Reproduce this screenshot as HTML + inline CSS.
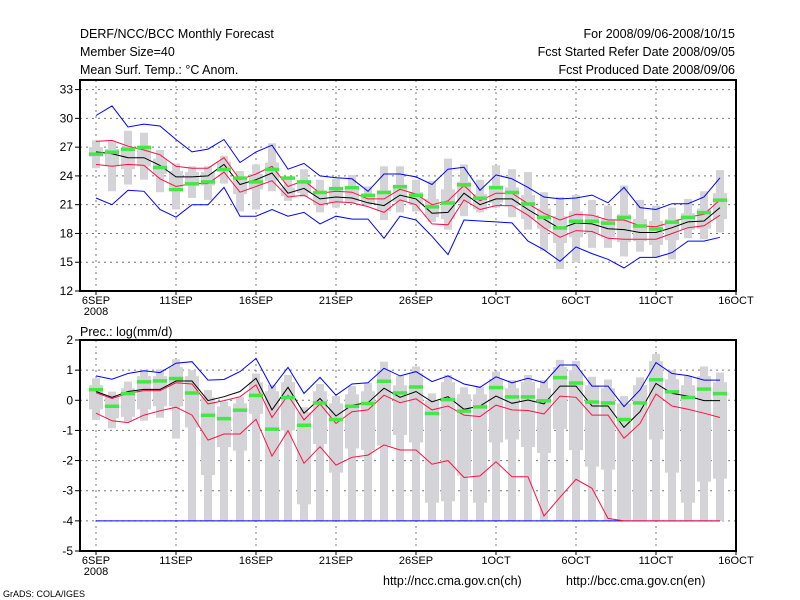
<!DOCTYPE html>
<html><head><meta charset="utf-8"><style>
body{margin:0;background:#fff;}
svg{display:block;font-family:"Liberation Sans",sans-serif;}
</style></head><body>
<svg id="c" width="800" height="600" viewBox="0 0 800 600">
<rect width="800" height="600" fill="#fff"/>
<g font-size="12.5" fill="#000">
<text x="80" y="38">DERF/NCC/BCC Monthly Forecast</text>
<text x="80" y="56">Member Size=40</text>
<text x="80" y="74">Mean Surf. Temp.: °C Anom.</text>
<text x="735" y="38" text-anchor="end">For 2008/09/06-2008/10/15</text>
<text x="735" y="56" text-anchor="end">Fcst Started Refer Date 2008/09/05</text>
<text x="735" y="74" text-anchor="end">Fcst Produced Date 2008/09/06</text>
<text x="80" y="336">Prec.: log(mm/d)</text>
<text x="383" y="585">http://ncc.cma.gov.cn(ch)</text>
<text x="566" y="585">http://bcc.cma.gov.cn(en)</text>
<text x="3" y="597" font-size="9">GrADS: COLA/IGES</text>
</g>
</svg>
<script>
// ---- Temperature panel data ----
const tMax=[27.7,27.6,28.7,28.5,26.7,25.3,25.0,25.0,26.1,24.5,25.2,27.4,23.8,24.7,23.6,23.7,24.1,22.9,25.0,25.0,23.6,23.5,25.8,25.2,23.6,25.1,24.7,24.4,22.3,21.8,22.0,21.5,20.9,23.0,21.5,20.9,20.7,21.6,22.4,24.6];
const tQ3=[27.0,26.8,27.0,27.0,25.8,24.5,24.4,24.4,25.5,23.7,24.2,25.4,22.8,23.5,22.4,22.5,22.6,21.9,22.5,23.1,22.3,21.6,22.6,23.4,22.1,23.0,22.8,22.0,20.6,19.8,20.3,19.9,19.5,20.0,19.5,19.3,19.5,20.1,20.6,22.2];
const tQ1=[26.0,25.0,24.7,25.0,24.2,22.8,23.0,23.0,24.4,22.1,22.6,23.5,21.9,22.2,21.0,21.2,21.3,21.1,20.3,21.3,21.0,19.7,19.5,21.2,20.5,21.2,20.8,19.5,18.5,17.0,17.6,18.0,17.6,17.1,17.2,16.8,17.3,18.4,18.5,19.5];
const tMin=[24.8,22.4,23.1,23.6,22.3,20.5,21.7,21.5,23.2,20.3,20.5,22.4,21.4,21.8,20.2,20.7,21.2,20.9,19.4,20.2,20.3,19.2,18.4,19.8,20.2,20.7,19.7,18.4,16.2,14.3,15.0,16.5,16.5,15.6,16.1,15.5,15.3,17.5,17.4,18.1];
const tBlueHi=[30.3,31.3,29.1,29.4,29.2,27.8,26.5,26.8,27.8,25.4,26.5,27.2,24.7,25.3,24.0,23.8,23.7,22.4,24.2,24.2,23.9,23.1,24.7,24.9,22.5,24.1,23.7,22.8,21.8,21.6,21.7,22.0,21.2,22.8,20.7,20.5,21.1,21.1,21.8,23.8];
const tBlueLo=[21.7,21.0,22.5,22.4,20.5,19.7,21.0,21.0,22.8,19.8,19.8,20.5,19.8,20.2,19.0,19.8,19.5,19.5,17.5,19.8,19.4,17.7,15.8,19.4,19.3,19.2,19.1,17.2,16.3,15.1,16.6,15.9,15.3,14.4,15.5,15.5,16.0,17.2,17.2,17.6];
const tRedHi=[27.6,27.7,27.1,26.7,26.2,25.0,24.8,24.8,25.9,23.6,24.2,25.0,22.9,23.5,22.2,22.4,22.3,21.6,21.6,22.6,22.1,21.0,21.4,23.0,21.4,22.2,22.2,21.1,20.1,19.4,20.0,19.9,19.4,19.4,18.8,18.7,19.2,19.7,20.0,21.5];
const tRedLo=[25.2,25.0,25.2,25.1,23.7,22.9,23.2,23.2,24.4,22.3,22.9,23.5,21.8,22.0,21.0,21.3,21.2,20.8,20.2,21.5,21.0,19.0,18.9,21.5,20.5,20.9,20.9,19.9,18.6,17.6,18.3,18.2,17.5,17.4,17.4,17.4,18.0,18.6,18.8,19.9];
const tMean=[26.5,26.3,25.9,25.9,25.1,23.9,23.9,24.0,25.2,23.1,23.6,24.3,22.2,22.7,21.6,21.8,21.7,21.2,20.9,22.0,21.6,20.1,20.2,22.2,21.0,21.6,21.6,20.5,19.5,18.5,19.1,19.0,18.5,18.4,18.1,18.1,18.6,19.2,19.3,20.7];
const tObs=[26.3,26.5,26.8,27.0,24.9,22.6,23.2,23.4,24.7,23.8,23.4,24.7,23.8,23.4,22.3,22.7,22.8,22.0,22.3,22.9,22.0,20.8,21.2,23.1,21.7,22.8,22.3,21.1,19.7,18.6,19.3,19.3,19.1,19.7,18.8,18.5,19.2,19.7,20.2,21.5];
const tTicks=[12,15,18,21,24,27,30,33];
// ---- Precipitation panel data ----
const pMax=[0.73,0.29,0.62,1.0,1.03,1.36,1.0,0.34,-0.05,0.12,0.89,0.51,0.84,-0.23,0.54,0.14,0.47,0.58,1.28,0.81,1.12,0.23,0.84,0.43,0.43,0.95,0.67,0.84,0.67,1.34,1.31,0.78,0.69,0.14,0.76,1.54,1.0,0.81,1.12,0.92];
const pQ3=[0.5,0.1,0.4,0.8,0.8,1.1,0.8,0.1,-0.2,-0.1,0.6,0.3,0.6,-0.4,0.3,-0.1,0.2,0.3,1.0,0.5,0.9,0.0,0.6,0.2,0.2,0.7,0.4,0.6,0.4,1.1,1.0,0.5,0.4,-0.1,0.5,1.3,0.7,0.5,0.8,0.6];
const pQ1=[-0.3,-0.6,-0.55,-0.3,-0.2,-0.2,-0.9,-2.48,-1.55,-1.67,-0.45,-4,-1.0,-3.45,-1.45,-2.4,-1.6,-1.65,-1.5,-1.15,-1.4,-3.4,-3.35,-2.5,-3.4,-1.4,-1.3,-1.55,-1.75,-0.95,-1.65,-2.2,-2.3,-4,-4,-1.3,-2.4,-3.4,-2.7,-2.6];
const pMin=[-0.65,-0.93,-0.71,-0.68,-0.58,-1.27,-4,-4,-4,-4,-4,-4,-4,-4,-4,-4,-4,-4,-4,-4,-4,-4,-4,-4,-4,-4,-4,-4,-4,-4,-4,-4,-4,-4,-4,-4,-4,-4,-4,-4];
const pBlueHi=[0.81,0.70,0.89,0.98,0.92,1.23,1.28,0.67,0.69,0.95,1.39,0.40,1.09,0.23,0.76,0.17,0.54,0.58,1.06,0.81,0.95,0.62,0.81,0.54,0.43,0.78,0.58,0.73,0.58,1.17,1.17,0.47,0.47,-0.21,0.34,1.25,0.89,0.82,0.67,0.67];
const pBlueLo=[-4,-4,-4,-4,-4,-4,-4,-4,-4,-4,-4,-4,-4,-4,-4,-4,-4,-4,-4,-4,-4,-4,-4,-4,-4,-4,-4,-4,-4,-4,-4,-4,-4,-4,-4,-4,-4,-4,-4,-4];
const pRedHi=[0.25,0.06,0.23,0.32,0.32,0.58,0.54,-0.12,-0.01,0.12,0.51,-0.57,0.17,-0.65,-0.12,-0.77,-0.38,-0.32,0.17,-0.08,0.05,-0.32,-0.19,-0.49,-0.54,-0.16,-0.32,-0.34,-0.45,0.14,0.10,-0.49,-0.49,-1.26,-0.77,0.21,-0.19,-0.30,-0.43,-0.57];
const pRedLo=[-0.43,-0.68,-0.74,-0.49,-0.35,-0.23,-0.49,-1.32,-1.12,-1.12,-0.63,-1.85,-1.01,-2.09,-1.54,-2.15,-1.89,-1.82,-1.48,-1.65,-1.65,-2.12,-2.00,-2.56,-2.51,-2.04,-2.54,-2.54,-3.84,-3.22,-2.62,-2.92,-3.92,-4,-4,-4,-4,-4,-4,-4];
const pMean=[0.29,0.10,0.29,0.36,0.36,0.64,0.64,-0.01,0.12,0.29,0.73,-0.32,0.43,-0.43,0.06,-0.52,-0.16,-0.08,0.40,0.10,0.29,-0.05,0.12,-0.30,-0.19,0.14,-0.10,0.01,-0.12,0.47,0.47,-0.19,-0.19,-0.90,-0.38,0.56,0.23,0.14,-0.01,-0.01];
const pObs=[0.36,-0.19,0.23,0.62,0.65,0.73,0.25,-0.49,-0.60,-0.32,0.17,-0.95,0.10,-0.82,-0.08,-0.63,-0.19,-0.10,0.64,0.25,0.45,-0.43,0.03,-0.35,-0.21,0.43,0.12,0.12,-0.01,0.76,0.58,-0.05,-0.08,-0.63,-0.08,0.69,0.29,0.10,0.38,0.23];
const pTicks=[-5,-4,-3,-2,-1,0,1,2];
const xLabels=["6SEP","11SEP","16SEP","21SEP","26SEP","1OCT","6OCT","11OCT","16OCT"];

const NS="http://www.w3.org/2000/svg";
const svg=document.getElementById('c');
const L=80,R=736;
const xDay=d=>96+16*d;
function mk(tag,attrs,parent){const e=document.createElementNS(NS,tag);for(const k in attrs)e.setAttribute(k,attrs[k]);(parent||svg).appendChild(e);return e;}

function panel(cfg){
  const {top,bot,vmin,vmax,ticks,name}=cfg;
  const y=v=>bot-(v-vmin)*(bot-top)/(vmax-vmin);
  const g=mk('g',{});
  
  
  // grid
  ticks.forEach(t=>{
    if(t===vmin||t===vmax)return;
    const l=mk('line',{x1:L,x2:R,y1:y(t),y2:y(t),stroke:'#777','stroke-width':1,'stroke-dasharray':'2,4'},g);
    
    
  });
  xLabels.forEach((s,i)=>{
    const x=xDay(i*5);
    if(i<8){const l=mk('line',{x1:x,x2:x,y1:top,y2:bot,stroke:'#777','stroke-width':1,'stroke-dasharray':'2,4'},g);
    
    }
  });
  // boxes
  for(let i=0;i<cfg.max.length;i++){
    const x=xDay(i);
    const o=mk('rect',{x:x-4,y:y(cfg.max[i]),width:8,height:Math.max(0,y(cfg.min[i])-y(cfg.max[i])),fill:'#d4d4d8'},g);
    
    
    const b=mk('rect',{x:x-7,y:y(cfg.q3[i]),width:14,height:Math.max(0,y(cfg.q1[i])-y(cfg.q3[i])),fill:'#d4d4d8'},g);
    
    
  }
  const line=(arr,col,nm)=>{
    const p=mk('polyline',{points:arr.map((v,i)=>xDay(i)+','+y(v).toFixed(1)).join(' '),fill:'none',stroke:col,'stroke-width':1},g);
    
    
  };
  line(cfg.blueLo,'#0000ff','lower-envelope-line');
  line(cfg.blueHi,'#0000ff','upper-envelope-line');
  line(cfg.redLo,'#ff1040','lower-spread-line');
  line(cfg.redHi,'#ff1040','upper-spread-line');
  line(cfg.mean,'#000','ensemble-mean-line');
  cfg.obs.forEach((v,i)=>{
    const r=mk('rect',{x:xDay(i)-7,y:y(v)-1.5,width:14,height:3.5,fill:'#44e844'},g);
    
    
  });
  // frame
  const f=mk('rect',{x:L,y:top,width:R-L,height:bot-top,fill:'none',stroke:'#000','stroke-width':2},g);
  
  
  ticks.forEach(t=>{
    mk('line',{x1:L-5,x2:L,y1:y(t),y2:y(t),stroke:'#000'},g);
    const tx=mk('text',{x:L-7,y:y(t)+4,'text-anchor':'end','font-size':12},g);
    tx.textContent=t;
    
    
  });
  xLabels.forEach((s,i)=>{
    const x=xDay(i*5);
    mk('line',{x1:x,x2:x,y1:bot,y2:bot+4,stroke:'#000'},g);
    const tx=mk('text',{x:x,y:bot+13,'text-anchor':'middle','font-size':11},g);
    tx.textContent=s;
    
    
  });
  const yr=mk('text',{x:xDay(0),y:bot+24,'text-anchor':'middle','font-size':11},g);
  yr.textContent='2008';
  
  
}
panel({name:'temperature-panel',top:80,bot:291,vmin:12,vmax:34,ticks:tTicks,max:tMax,q3:tQ3,q1:tQ1,min:tMin,blueHi:tBlueHi,blueLo:tBlueLo,redHi:tRedHi,redLo:tRedLo,mean:tMean,obs:tObs});
panel({name:'precipitation-panel',top:340,bot:551,vmin:-5,vmax:2,ticks:pTicks,max:pMax,q3:pQ3,q1:pQ1,min:pMin,blueHi:pBlueHi,blueLo:pBlueLo,redHi:pRedHi,redLo:pRedLo,mean:pMean,obs:pObs});
</script>
</body></html>
